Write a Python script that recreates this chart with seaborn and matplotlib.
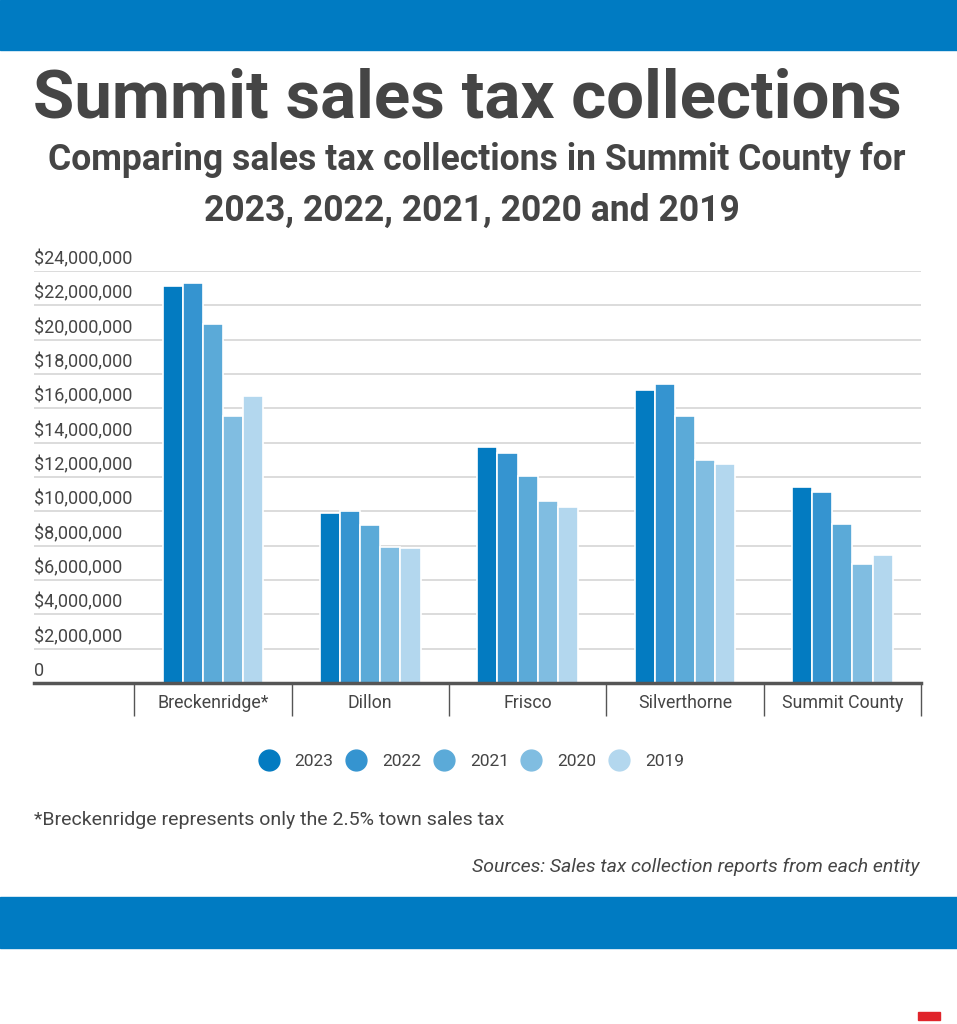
import matplotlib
matplotlib.use("Agg")
import matplotlib.pyplot as plt
import matplotlib.transforms as mtransforms
from matplotlib.lines import Line2D
from matplotlib.patches import Rectangle
import seaborn as sns
import pandas as pd

# ---- data ----
entities = ["Breckenridge*", "Dillon", "Frisco", "Silverthorne", "Summit County"]
years = ["2023", "2022", "2021", "2020", "2019"]
v2023 = [23130000, 9910000, 13740000, 17070000, 11430000]
v2022 = [23310000, 10010000, 13390000, 17420000, 11140000]
v2021 = [20920000, 9180000, 12070000, 15570000, 9250000]
v2020 = [15570000, 7910000, 10580000, 13000000, 6940000]
v2019 = [16740000, 7870000, 10260000, 12730000, 7460000]
ytick_vals = list(range(0, 24000001, 2000000))
ytick_labels = ["0"] + [f"${v:,}" for v in ytick_vals[1:]]

colors = ["#037BC1", "#3594D0", "#5BAAD8", "#80BDE1", "#B3D7EE"]
series = [v2023, v2022, v2021, v2020, v2019]

rows = []
for y, vals in zip(years, series):
    for e, v in zip(entities, vals):
        rows.append({"entity": e, "year": y, "value": v})
df = pd.DataFrame(rows)

sns.set_theme(style="white")
plt.rcParams["font.family"] = ["Roboto", "DejaVu Sans"]
TXT = "#454545"

W, H = 957, 1024
fig = plt.figure(figsize=(W / 100, H / 100), dpi=100)
fig.patch.set_facecolor("white")

# banners
fig.add_artist(Rectangle((0, 1 - 50 / H), 1, 50 / H, transform=fig.transFigure,
                         color="#007BC2", zorder=0))
fig.add_artist(Rectangle((0, 1 - 948 / H), 1, 51 / H, transform=fig.transFigure,
                         color="#007BC2", zorder=0))
fig.add_artist(Rectangle((918 / W, 1 - 1020 / H), 22 / W, 8 / H, transform=fig.transFigure,
                         color="#E0242B", zorder=0))

# titles
fig.text(467 / W, 1 - 100 / H, "Summit sales tax collections", ha="center", va="center",
         fontsize=48.3, fontweight="bold", color=TXT)
fig.text(477 / W, 1 - 160 / H, "Comparing sales tax collections in Summit County for",
         ha="center", va="center", fontsize=25.6, fontweight="bold", color=TXT)
fig.text(472 / W, 1 - 211 / H, "2023, 2022, 2021, 2020 and 2019",
         ha="center", va="center", fontsize=25.6, fontweight="bold", color=TXT)

# axes
left, right, top, base = 34, 921, 271, 683
ax = fig.add_axes([left / W, 1 - base / H, (right - left) / W, (base - top) / H])
sns.barplot(data=df, x="entity", y="value", hue="year", hue_order=years, order=entities,
            palette=colors, saturation=1, width=0.64, edgecolor="white", linewidth=1.2,
            legend=False, ax=ax, zorder=3)
ax.set_xlim(-1.137, 4.5)
ax.set_ylim(0, 24000000)
ax.set_xlabel("")
ax.set_ylabel("")
for s in ["top", "right", "left"]:
    ax.spines[s].set_visible(False)
ax.spines["bottom"].set_color("#555555")
ax.spines["bottom"].set_linewidth(2.5)
ax.spines["bottom"].set_zorder(5)

for v in ytick_vals[1:]:
    ax.axhline(v, color="#DCDCDC", lw=1.4, zorder=1)
ax.set_yticks([])
off = mtransforms.offset_copy(ax.get_yaxis_transform(), fig=fig, x=0, y=2, units="points")
for v, lab in zip(ytick_vals, ytick_labels):
    ax.text(0, v, lab, transform=off, ha="left", va="bottom", fontsize=13, color=TXT)

ax.set_xticks(range(len(entities)))
ax.set_xticklabels(entities, fontsize=12.8, color=TXT)
ax.tick_params(axis="x", which="major", length=0, pad=8)
ax.set_xticks([i - 0.5 for i in range(len(entities) + 1)], minor=True)
ax.tick_params(axis="x", which="minor", length=24, width=1, color="#555555", bottom=True)

# legend
handles = [Line2D([0], [0], marker="o", linestyle="", markersize=15,
                  markerfacecolor=c, markeredgecolor=c) for c in colors]
fig.legend(handles, years, loc="center", bbox_to_anchor=(472 / W, 1 - 761 / H), ncol=5,
           frameon=False, fontsize=12.5, labelcolor=TXT, handletextpad=1.0,
           columnspacing=0.8, handlelength=1.0)

# notes
fig.text(34 / W, 1 - 820 / H, "*Breckenridge represents only the 2.5% town sales tax",
         ha="left", va="center", fontsize=14, color=TXT)
fig.text(919 / W, 1 - 867 / H, "Sources: Sales tax collection reports from each entity",
         ha="right", va="center", fontsize=14, style="italic", color=TXT)

fig.savefig("out.png", dpi=100, facecolor="white")
